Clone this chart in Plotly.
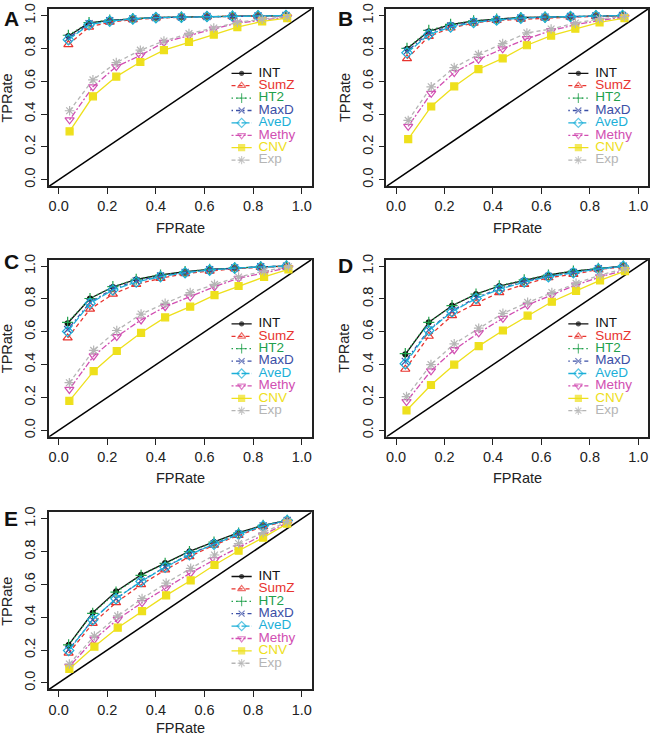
import plotly.graph_objects as go

# ---------------- data ----------------
PANELS = ["A", "B", "C", "D", "E"]
SERIES = ["INT", "SumZ", "HT2", "MaxD", "AveD", "Methy", "CNV", "Exp"]
INTEGRATIVE = ["INT", "SumZ", "HT2", "MaxD", "AveD"]
SINGLE = ["Methy", "CNV", "Exp"]
TICKS = [0.0, 0.2, 0.4, 0.6, 0.8, 1.0]
AXIS_RANGE = [-0.04, 1.04]

# false-positive rates (x) for integrative methods and single-omics curves
FPR_INTEG = {
    "A": [0.040, 0.125, 0.210, 0.305, 0.400, 0.505, 0.610, 0.715, 0.820, 0.935],
    "B": [0.045, 0.135, 0.225, 0.320, 0.415, 0.515, 0.615, 0.720, 0.825, 0.935],
    "C": [0.037, 0.129, 0.223, 0.319, 0.419, 0.520, 0.621, 0.724, 0.831, 0.937],
    "D": [0.038, 0.135, 0.231, 0.330, 0.426, 0.529, 0.629, 0.732, 0.835, 0.938],
    "E": [0.041, 0.140, 0.236, 0.339, 0.438, 0.538, 0.639, 0.740, 0.841, 0.940],
}
FPR_SINGLE = {
    "A": [0.045, 0.141, 0.237, 0.336, 0.433, 0.536, 0.638, 0.735, 0.837, 0.940],
    "B": [0.050, 0.145, 0.240, 0.340, 0.440, 0.540, 0.640, 0.740, 0.840, 0.943],
    "C": [0.044, 0.144, 0.239, 0.339, 0.438, 0.541, 0.641, 0.740, 0.845, 0.945],
    "D": [0.043, 0.144, 0.240, 0.341, 0.441, 0.543, 0.643, 0.743, 0.842, 0.945],
    "E": [0.044, 0.147, 0.243, 0.343, 0.442, 0.543, 0.641, 0.740, 0.841, 0.940],
}

TPR_A = {
    "INT":   [0.875, 0.955, 0.970, 0.980, 0.988, 0.990, 0.994, 0.996, 0.998, 1.000],
    "SumZ":  [0.823, 0.930, 0.960, 0.975, 0.985, 0.990, 0.993, 0.995, 0.997, 0.999],
    "HT2":   [0.880, 0.957, 0.972, 0.981, 0.988, 0.991, 0.994, 0.996, 0.998, 1.000],
    "MaxD":  [0.862, 0.950, 0.968, 0.980, 0.987, 0.990, 0.994, 0.996, 0.998, 1.000],
    "AveD":  [0.853, 0.944, 0.966, 0.979, 0.987, 0.990, 0.994, 0.996, 0.998, 1.000],
    "Methy": [0.365, 0.566, 0.689, 0.757, 0.837, 0.880, 0.918, 0.954, 0.974, 0.990],
    "CNV":   [0.295, 0.508, 0.628, 0.717, 0.789, 0.839, 0.884, 0.930, 0.964, 0.984],
    "Exp":   [0.420, 0.608, 0.713, 0.789, 0.845, 0.890, 0.924, 0.958, 0.978, 0.994],
}
TPR_B = {
    "INT":   [0.797, 0.904, 0.944, 0.968, 0.978, 0.988, 0.990, 0.994, 0.998, 1.000],
    "SumZ":  [0.737, 0.873, 0.924, 0.954, 0.970, 0.978, 0.986, 0.990, 0.995, 0.998],
    "HT2":   [0.800, 0.910, 0.946, 0.968, 0.978, 0.988, 0.990, 0.994, 0.998, 1.000],
    "MaxD":  [0.783, 0.893, 0.936, 0.962, 0.975, 0.985, 0.990, 0.994, 0.998, 1.000],
    "AveD":  [0.773, 0.884, 0.930, 0.958, 0.973, 0.984, 0.990, 0.994, 0.998, 1.000],
    "Methy": [0.325, 0.526, 0.653, 0.733, 0.797, 0.859, 0.908, 0.944, 0.970, 0.990],
    "CNV":   [0.247, 0.446, 0.568, 0.673, 0.739, 0.819, 0.878, 0.920, 0.958, 0.984],
    "Exp":   [0.361, 0.566, 0.683, 0.763, 0.829, 0.894, 0.918, 0.954, 0.980, 0.994],
}
TPR_C = {
    "INT":   [0.652, 0.803, 0.873, 0.919, 0.946, 0.966, 0.980, 0.990, 0.996, 1.000],
    "SumZ":  [0.563, 0.738, 0.829, 0.889, 0.926, 0.954, 0.970, 0.984, 0.993, 0.999],
    "HT2":   [0.658, 0.803, 0.875, 0.920, 0.946, 0.966, 0.980, 0.990, 0.996, 1.000],
    "MaxD":  [0.614, 0.779, 0.862, 0.910, 0.940, 0.962, 0.978, 0.989, 0.996, 1.000],
    "AveD":  [0.602, 0.773, 0.855, 0.903, 0.936, 0.960, 0.976, 0.988, 0.995, 1.000],
    "Methy": [0.249, 0.453, 0.571, 0.672, 0.753, 0.813, 0.875, 0.926, 0.960, 0.990],
    "CNV":   [0.179, 0.360, 0.483, 0.594, 0.688, 0.753, 0.823, 0.879, 0.934, 0.980],
    "Exp":   [0.290, 0.487, 0.608, 0.708, 0.773, 0.839, 0.889, 0.934, 0.970, 0.996],
}
TPR_D = {
    "INT":   [0.463, 0.658, 0.759, 0.829, 0.879, 0.915, 0.946, 0.970, 0.986, 1.000],
    "SumZ":  [0.372, 0.573, 0.698, 0.773, 0.839, 0.889, 0.930, 0.950, 0.980, 0.996],
    "HT2":   [0.467, 0.658, 0.759, 0.830, 0.880, 0.916, 0.946, 0.970, 0.986, 1.000],
    "MaxD":  [0.420, 0.612, 0.728, 0.808, 0.864, 0.906, 0.938, 0.962, 0.984, 1.000],
    "AveD":  [0.406, 0.608, 0.722, 0.803, 0.859, 0.903, 0.936, 0.960, 0.983, 0.999],
    "Methy": [0.175, 0.362, 0.491, 0.594, 0.682, 0.763, 0.825, 0.885, 0.934, 0.976],
    "CNV":   [0.121, 0.276, 0.400, 0.513, 0.608, 0.698, 0.783, 0.849, 0.913, 0.970],
    "Exp":   [0.205, 0.400, 0.527, 0.622, 0.712, 0.779, 0.839, 0.895, 0.946, 0.984],
}
TPR_E = {
    "INT":   [0.231, 0.427, 0.557, 0.658, 0.730, 0.801, 0.859, 0.915, 0.960, 0.990],
    "SumZ":  [0.181, 0.362, 0.489, 0.598, 0.688, 0.769, 0.839, 0.899, 0.952, 0.986],
    "HT2":   [0.231, 0.423, 0.553, 0.655, 0.728, 0.799, 0.857, 0.913, 0.959, 0.990],
    "MaxD":  [0.201, 0.384, 0.513, 0.620, 0.706, 0.783, 0.847, 0.906, 0.956, 0.989],
    "AveD":  [0.197, 0.384, 0.513, 0.618, 0.704, 0.781, 0.845, 0.905, 0.956, 0.989],
    "Methy": [0.100, 0.266, 0.388, 0.489, 0.579, 0.670, 0.750, 0.825, 0.899, 0.976],
    "CNV":   [0.085, 0.221, 0.336, 0.437, 0.533, 0.624, 0.718, 0.805, 0.885, 0.970],
    "Exp":   [0.115, 0.286, 0.408, 0.513, 0.608, 0.698, 0.779, 0.849, 0.915, 0.982],
}
TPR = {"A": TPR_A, "B": TPR_B, "C": TPR_C, "D": TPR_D, "E": TPR_E}

# ---------------- styles ----------------
COLORS = {
    "INT": "#111111", "SumZ": "#E8342F", "HT2": "#21A04C", "MaxD": "#3B4FA6",
    "AveD": "#1CAFD8", "Methy": "#D14FB2", "CNV": "#EEE01C", "Exp": "#B5B5B5",
}
DASHES = {
    "INT": "solid", "SumZ": "4px,3px", "HT2": "1.5px,3px", "MaxD": "1.5px,3px,4px,3px",
    "AveD": "8px,2px", "Methy": "2px,2px,6px,2px", "CNV": "solid", "Exp": "4px,3px",
}
SYMBOLS = {
    "INT": "circle", "SumZ": "triangle-up-open", "HT2": "cross-thin-open",
    "MaxD": "x-thin-open", "AveD": "diamond-open", "Methy": "triangle-down-open",
    "CNV": "square", "Exp": "asterisk-open",
}
SIZES = {"INT": 5, "SumZ": 8, "HT2": 8, "MaxD": 7, "AveD": 8, "Methy": 8, "CNV": 7, "Exp": 8}

W, H = 650, 738
# panel boxes in pixels: left, right, top, bottom
BOXES = {
    "A": (49, 312, 3, 182),
    "B": (387, 649, 3, 182),
    "C": (49, 312, 256, 435),
    "D": (387, 649, 256, 435),
    "E": (49, 312, 511, 690),
}
LETTER_POS = {"A": (2, 13), "B": (337, 13), "C": (2, 258), "D": (337, 262), "E": (2, 517)}
XTITLE_GAP = {"A": 42, "B": 42, "C": 42, "D": 42, "E": 39}

FONT = "Liberation Sans, Arial, Helvetica, sans-serif"
AXCOL = "#222222"

# legend layout (data units of each panel)
LEG_X0, LEG_X1, LEG_TEXT_X = 0.711, 0.794, 0.822
LEG_Y0, LEG_DY = 0.648, 0.0755

fig = go.Figure()
layout = dict(
    width=W, height=H, margin=dict(l=0, r=0, t=0, b=0),
    paper_bgcolor="white", plot_bgcolor="white", showlegend=False,
    font=dict(family=FONT, color=AXCOL),
)
annotations = []
shapes = []

for k, p in enumerate(PANELS):
    idx = "" if k == 0 else str(k + 1)
    xa, ya = "x" + idx, "y" + idx
    l, r, t, b = BOXES[p]
    axis_common = dict(
        range=AXIS_RANGE, tickvals=TICKS, tickformat=".1f", ticks="outside",
        ticklen=6, tickwidth=1.2, tickcolor=AXCOL, showline=True, linewidth=1.5,
        linecolor=AXCOL, mirror=True, showgrid=False, zeroline=False,
        tickfont=dict(family=FONT, size=14.5, color=AXCOL), fixedrange=True,
    )
    layout["xaxis" + idx] = dict(axis_common, domain=[l / W, r / W], anchor=ya)
    layout["yaxis" + idx] = dict(axis_common, domain=[1 - b / H, 1 - t / H], anchor=xa,
                                 tickangle=-90)

    # diagonal reference line
    shapes.append(dict(type="line", xref=xa, yref=ya, x0=AXIS_RANGE[0], y0=AXIS_RANGE[0],
                       x1=AXIS_RANGE[1], y1=AXIS_RANGE[1],
                       line=dict(color="#000000", width=1.5), layer="below"))

    for s in SERIES:
        xs = FPR_INTEG[p] if s in INTEGRATIVE else FPR_SINGLE[p]
        fig.add_trace(go.Scatter(
            x=xs, y=TPR[p][s], mode="lines+markers", xaxis=xa, yaxis=ya, name=s,
            line=dict(color=COLORS[s], width=1.3, dash=DASHES[s]),
            marker=dict(symbol=SYMBOLS[s], size=SIZES[s], color=COLORS[s],
                        line=dict(color=COLORS[s], width=1.2)),
            cliponaxis=False, hoverinfo="skip",
        ))

    # legend keys
    for i, s in enumerate(SERIES):
        yrow = LEG_Y0 - i * LEG_DY
        xm = (LEG_X0 + LEG_X1) / 2
        fig.add_trace(go.Scatter(
            x=[LEG_X0, xm, LEG_X1], y=[yrow] * 3, mode="lines+markers",
            xaxis=xa, yaxis=ya, hoverinfo="skip",
            line=dict(color=COLORS[s], width=1.3, dash=DASHES[s]),
            marker=dict(symbol=SYMBOLS[s], size=[0, SIZES[s] - 1, 0], color=COLORS[s],
                        line=dict(color=COLORS[s], width=1.2)),
        ))
        fig.add_trace(go.Scatter(
            x=[LEG_TEXT_X], y=[yrow], mode="text", text=[s], textposition="middle right",
            xaxis=xa, yaxis=ya, hoverinfo="skip", cliponaxis=False,
            textfont=dict(family=FONT, size=13.5, color=COLORS[s]),
        ))

    # axis titles
    annotations.append(dict(text="FPRate", x=(l + r) / 2 / W, y=1 - (b + XTITLE_GAP[p]) / H,
                            xref="paper", yref="paper", showarrow=False,
                            font=dict(family=FONT, size=14.5, color=AXCOL),
                            xanchor="center", yanchor="middle"))
    annotations.append(dict(text="TPRate", x=(l - 42) / W, y=1 - (t + b) / 2 / H,
                            xref="paper", yref="paper", showarrow=False, textangle=-90,
                            font=dict(family=FONT, size=14.5, color=AXCOL),
                            xanchor="center", yanchor="middle"))
    lx, ly = LETTER_POS[p]
    annotations.append(dict(text="<b>%s</b>" % p, x=lx / W, y=1 - ly / H,
                            xref="paper", yref="paper", showarrow=False,
                            font=dict(family=FONT, size=21, color="#111111"),
                            xanchor="left", yanchor="middle"))

layout["annotations"] = annotations
layout["shapes"] = shapes
fig.update_layout(**layout)
fig.write_html(
    "out.html",
    config={"displayModeBar": False},
    post_script="document.body.style.margin='0';document.body.style.overflow='hidden';",
)
